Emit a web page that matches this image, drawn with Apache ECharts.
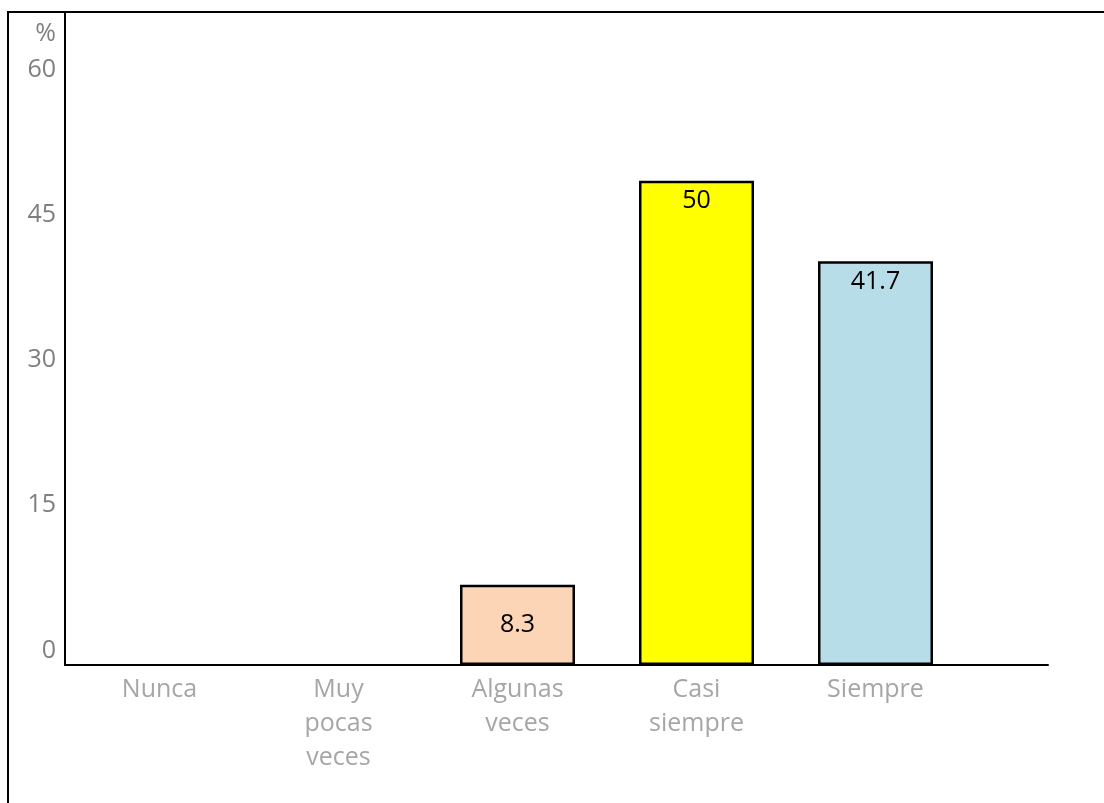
<!DOCTYPE html>
<html>
<head>
<meta charset="utf-8">
<title>Frecuencia (%)</title>
<script src="https://cdn.jsdelivr.net/npm/echarts@6/dist/echarts.min.js"></script>
<style>
  html, body { margin: 0; padding: 0; background: #fff; overflow: hidden; }
  #frame {
    position: absolute; left: 7px; top: 11px; right: -20px; bottom: -20px;
    border-left: 2px solid #000; border-top: 2px solid #000;
  }
  #chart { position: absolute; left: 0; top: 0; width: 1104px; height: 803px; }
</style>
</head>
<body>
<div id="frame"></div>
<div id="chart"></div>
<script>
// Response categories and share of answers (%)
const categories = ['Nunca', 'Muy pocas veces', 'Algunas veces', 'Casi siempre', 'Siempre'];
const percentages = [0, 0, 8.3, 50, 41.7];
const barColors = ['#FBD5B5', '#FBD5B5', '#FBD5B5', '#FFFF00', '#B7DDE8'];
const yTicks = { min: 0, max: 60, interval: 15 };

const FONT = '"Open Sans", sans-serif';
const FS = 25;

const chart = echarts.init(document.getElementById('chart'), null, { renderer: 'canvas' });

chart.setOption({
  animation: false,
  backgroundColor: 'transparent',
  grid: [
    // plotting area for the bars and labels
    { left: 70, right: 139, top: 84, bottom: 138, containLabel: false },
    // outer axis frame (longer axis lines)
    { left: 65, right: 56, top: 12, bottom: 138, containLabel: false }
  ],
  xAxis: [
    {
      gridIndex: 0,
      type: 'category',
      data: categories,
      axisLine: { show: false },
      axisTick: { show: false },
      axisLabel: {
        color: '#A6A6A6',
        fontFamily: FONT,
        fontSize: FS,
        lineHeight: 34,
        margin: 8,
        interval: 0,
        formatter: v => v.split(' ').join('\n')
      }
    },
    {
      gridIndex: 1,
      type: 'value',
      min: 0, max: 1,
      axisLine: { show: true, lineStyle: { color: '#000', width: 2 } },
      axisTick: { show: false },
      axisLabel: { show: false },
      splitLine: { show: false }
    }
  ],
  yAxis: [
    {
      gridIndex: 0,
      type: 'value',
      min: yTicks.min,
      max: yTicks.max,
      interval: yTicks.interval,
      name: '%',
      nameLocation: 'end',
      nameGap: 50,
      nameTextStyle: {
        color: '#7F7F7F',
        fontFamily: FONT,
        fontSize: FS,
        align: 'right',
        verticalAlign: 'middle',
        padding: [0, 14, 0, 0]
      },
      axisLine: { show: false },
      axisTick: { show: false },
      splitLine: { show: false },
      axisLabel: {
        color: '#7F7F7F',
        fontFamily: FONT,
        fontSize: FS,
        lineHeight: 25,
        margin: 14,
        verticalAlign: 'bottom',
        padding: [0, 0, 2, 0]
      }
    },
    {
      gridIndex: 1,
      type: 'value',
      min: 0, max: 1,
      axisLine: { show: true, lineStyle: { color: '#000', width: 2 } },
      axisTick: { show: false },
      axisLabel: { show: false },
      splitLine: { show: false }
    }
  ],
  series: [
    {
      type: 'bar',
      xAxisIndex: 0,
      yAxisIndex: 0,
      barWidth: 115,
      data: percentages.map((v, i) => ({
        value: v,
        itemStyle: {
          color: barColors[i],
          borderColor: '#000',
          // empty categories get no outline
          borderWidth: v > 0 ? 2.5 : 0
        },
        label: { position: v < 15 ? 'inside' : 'insideTop' }
      })),
      label: {
        show: true,
        distance: 8,
        color: '#000',
        fontFamily: FONT,
        fontSize: FS,
        formatter: p => (p.value > 0 ? String(p.value) : '')
      },
      z: 3
    }
  ]
});
</script>
</body>
</html>
